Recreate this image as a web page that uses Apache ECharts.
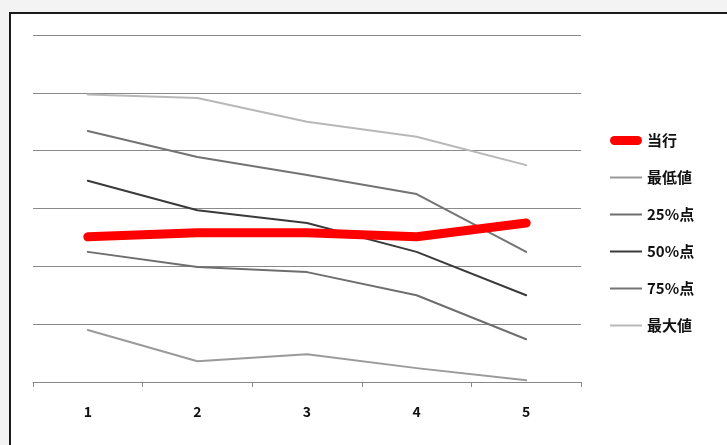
<!DOCTYPE html>
<html>
<head>
<meta charset="utf-8">
<style>
html,body{margin:0;padding:0;background:#fff;}
#c{width:727px;height:445px;}
</style>
<script src="https://cdn.jsdelivr.net/npm/echarts@6/dist/echarts.min.js"></script>
</head>
<body>
<div id="c"></div>
<script>
const categories = ['1', '2', '3', '4', '5'];
const current = [2.51, 2.58, 2.58, 2.51, 2.75];
const minimum = [0.90, 0.36, 0.48, 0.24, 0.03];
const p25 = [2.25, 1.99, 1.90, 1.50, 0.74];
const p50 = [3.48, 2.97, 2.75, 2.25, 1.50];
const p75 = [4.34, 3.89, 3.58, 3.25, 2.25];
const maximum = [4.97, 4.91, 4.50, 4.24, 3.75];
const seriesNames = ['当行', '最低値', '25%点', '50%点', '75%点', '最大値'];

const chart = echarts.init(document.getElementById('c'), null, {renderer: 'canvas'});
const font = '"Noto Sans CJK JP", "DejaVu Sans", sans-serif';
const thickIcon = 'path://M4.5,0L27.5,0A4.5,4.5,0,0,1,27.5,9L4.5,9A4.5,4.5,0,0,1,4.5,0Z';
const thinIcon = 'path://M0,0L32,0L32,2L0,2Z';
function line(name, data, color, width, z) {
  return {
    name: name, type: 'line', data: data, symbol: 'none', z: z,
    lineStyle: {color: color, width: width, cap: 'round', join: 'round'},
    itemStyle: {color: color}
  };
}
chart.setOption({
  animation: false,
  backgroundColor: '#fff',
  graphic: [
    {type: 'rect', z: 0, shape: {x: 0, y: 0, width: 727, height: 12}, style: {fill: '#f3f3f3'}},
    {type: 'rect', z: 0, shape: {x: 0, y: 0, width: 9, height: 445}, style: {fill: '#f3f3f3'}},
    {type: 'polyline', z: 1, shape: {points: [[10, 445], [10, 13], [727, 13]]}, style: {stroke: '#1a1a1a', lineWidth: 2, fill: null}}
  ],
  grid: {left: 33, right: 146, top: 35, bottom: 63},
  legend: {
    orient: 'vertical', left: 605, top: 128, itemGap: 22, itemWidth: 32, itemHeight: 14,
    data: seriesNames.map(function (n, i) { return {name: n, icon: i === 0 ? thickIcon : thinIcon}; }),
    lineStyle: {width: 0, opacity: 0},
    textStyle: {fontFamily: font, fontSize: 15, fontWeight: 'bold', color: '#111'}
  },
  xAxis: {
    type: 'category', data: categories, boundaryGap: true,
    axisLine: {lineStyle: {color: '#888', width: 1}},
    axisTick: {show: true, length: 5, lineStyle: {color: '#888'}},
    axisLabel: {fontFamily: font, fontSize: 14, fontWeight: 'bold', color: '#111', margin: 23}
  },
  yAxis: {
    type: 'value', min: 0, max: 6, interval: 1,
    axisLine: {show: false}, axisTick: {show: false}, axisLabel: {show: false},
    splitLine: {lineStyle: {color: '#8a8a8a', width: 1}}
  },
  series: [
    line('当行', current, '#ff0000', 9, 10),
    line('最低値', minimum, '#9a9a9a', 2, 3),
    line('25%点', p25, '#6e6e6e', 2, 3),
    line('50%点', p50, '#3a3a3a', 2, 3),
    line('75%点', p75, '#737373', 2, 3),
    line('最大値', maximum, '#b8b8b8', 2, 3)
  ]
});
</script>
</body>
</html>
